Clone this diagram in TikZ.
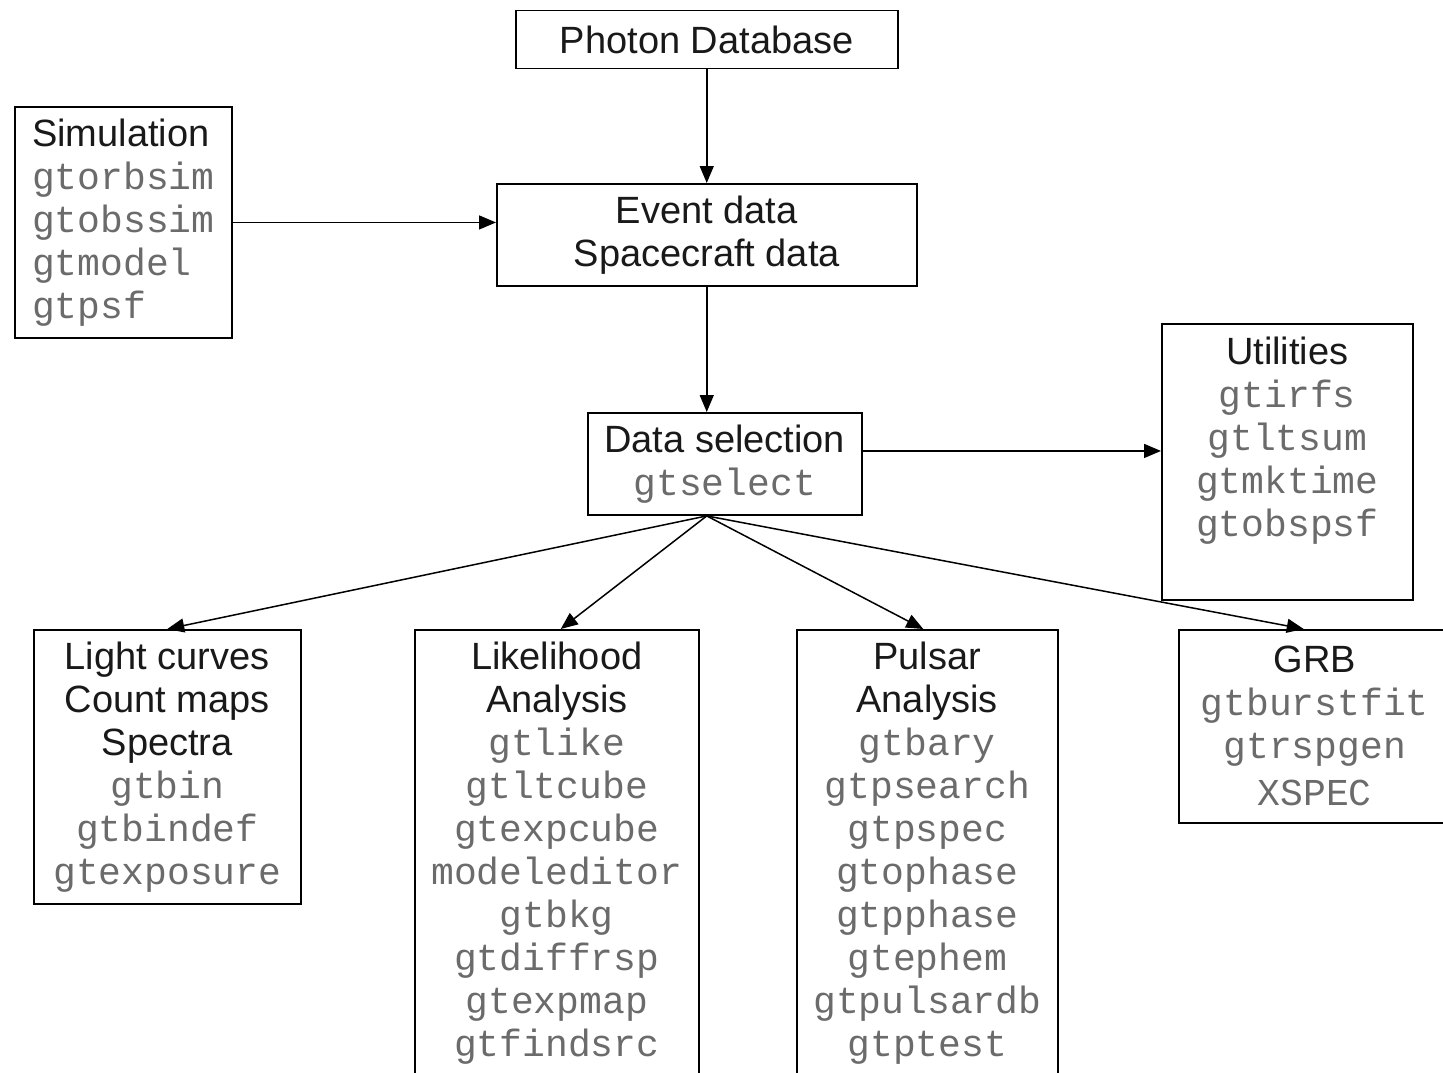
\documentclass[tikz,border=0pt]{standalone}
\usepackage{fontspec}
\setmainfont{Liberation Sans}
\setmonofont{Liberation Mono}
\usetikzlibrary{arrows.meta}
\definecolor{toolgray}{rgb}{0.42,0.42,0.42}
\newcommand{\tool}[1]{{\ttfamily\color{toolgray}#1}}

\begin{document}
\begin{tikzpicture}[x=1pt, y=-1pt,
  box/.style={draw, line width=1.5pt, align=center, inner xsep=8pt, inner ysep=12pt,
    font=\fontsize{38}{43}\selectfont, text=black!90},
  flow/.style={line width=1.5pt, -{Triangle[length=17pt,width=14pt]}}]
\useasboundingbox (0,0) rectangle (1443,1073);
\clip (0,0) rectangle (1443,1073);
% data chain
\node[box, anchor=north west, minimum width=382pt, minimum height=58pt] (photon) at (515,10) {Photon Database};
\node[box, anchor=north west, minimum width=420pt, minimum height=102pt] (event) at (496,183) {Event data\\Spacecraft data};
\node[box, anchor=north west, minimum width=274pt, minimum height=102pt] (sel) at (587,412) {Data selection\\\tool{gtselect}};
\node[box, anchor=north west, minimum width=217pt, minimum height=231pt, align=left] (sim) at (14,106)
  {Simulation\\\tool{gtorbsim}\\\tool{gtobssim}\\\tool{gtmodel}\\\tool{gtpsf}};
\node[box, anchor=north west, minimum width=251pt, minimum height=276pt] (util) at (1161,323)
  {Utilities\\\tool{gtirfs}\\\tool{gtltsum}\\\tool{gtmktime}\\\tool{gtobspsf}\\[8pt]~};
% analysis boxes
\node[box, anchor=north west, minimum width=267pt, minimum height=274pt] (lc) at (33,629)
  {Light curves\\Count maps\\Spectra\\\tool{gtbin}\\\tool{gtbindef}\\\tool{gtexposure}};
\node[box, anchor=north west, minimum width=284pt] (like) at (414,629)
  {Likelihood\\Analysis\\\tool{gtlike}\\\tool{gtltcube}\\\tool{gtexpcube}\\\tool{modeleditor}\\\tool{gtbkg}\\\tool{gtdiffrsp}\\\tool{gtexpmap}\\\tool{gtfindsrc}\\~};
\node[box, anchor=north west, minimum width=261pt] (pulsar) at (796,629)
  {Pulsar\\Analysis\\\tool{gtbary}\\\tool{gtpsearch}\\\tool{gtpspec}\\\tool{gtophase}\\\tool{gtpphase}\\\tool{gtephem}\\\tool{gtpulsardb}\\\tool{gtptest}\\~};
\node[box, anchor=north west, minimum width=272pt, minimum height=193pt] (grb) at (1178,629)
  {GRB\\\tool{gtburstfit}\\\tool{gtrspgen}\\[4pt]\tool{XSPEC}};
% connectors
\draw[flow] (photon.south) -- (event.north);
\draw[flow] (sim.east) -- (sim.east -| event.west);
\draw[flow] (event.south) -- (event.south |- sel.north);
\draw[flow] ([yshift=13pt]sel.east) -- ([yshift=13pt]sel.east -| util.west);
\coordinate (fan) at (event.south |- sel.south);
\draw[flow] (fan) -- (lc.north);
\draw[flow] (fan) -- ([xshift=4pt]like.north);
\draw[flow] (fan) -- ([xshift=-4pt]pulsar.north);
\draw[flow] (fan) -- ([xshift=-11pt]grb.north);
\end{tikzpicture}
\end{document}
